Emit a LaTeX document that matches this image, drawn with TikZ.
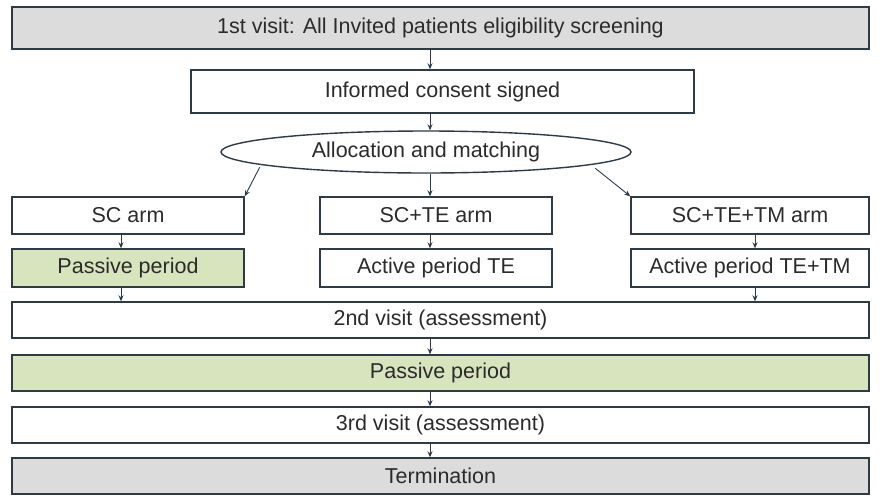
\documentclass[tikz,border=0pt]{standalone}
\usepackage{fontspec}
\setmainfont{Liberation Sans}
\usetikzlibrary{shapes.geometric,arrows.meta,calc}
\definecolor{edge}{HTML}{2E3B45}
\definecolor{greenfill}{HTML}{D7E4BD}
\definecolor{grayfill}{HTML}{DCDCDC}
\definecolor{txt}{HTML}{2B2B2B}
\begin{document}
\begin{tikzpicture}[x=1pt,y=-1pt,
  box/.style={draw=edge, line width=1.4pt, text=txt, font=\fontsize{21.5}{25}\selectfont, inner sep=0pt, fill=white},
  arr/.style={draw=edge, line width=0.9pt, -{Stealth[length=6pt,width=5pt]}}]
\useasboundingbox[fill=white] (0,0) rectangle (883,496);
\coordinate (cx) at (430,0);
\coordinate (lx) at (121,0);
\coordinate (rx) at (755,0);
\node[box, fill=grayfill, minimum width=857, minimum height=42] (v1) at (440.5,28) {1st visit: All Invited patients eligibility screening};
\node[box, minimum width=503, minimum height=43] (ic) at (442.5,91.5) {Informed consent signed};
\node[box, ellipse, minimum width=410, minimum height=42] (alloc) at (426,152) {Allocation and matching};
\node[box, minimum width=232, minimum height=37] (sc1) at (128,215.5) {SC arm};
\node[box, minimum width=232, minimum height=37] (sc2) at (436,215.5) {SC+TE arm};
\node[box, minimum width=238, minimum height=37] (sc3) at (750,215.5) {SC+TE+TM arm};
\node[box, fill=greenfill, minimum width=232, minimum height=38] (p1) at (128,268) {Passive period};
\node[box, minimum width=232, minimum height=38] (p2) at (436,268) {Active period TE};
\node[box, minimum width=238, minimum height=38] (p3) at (750,268) {Active period TE+TM};
\node[box, minimum width=857, minimum height=36] (v2) at (440.5,320) {2nd visit (assessment)};
\node[box, fill=greenfill, minimum width=857, minimum height=36] (pp) at (440.5,373) {Passive period};
\node[box, minimum width=857, minimum height=36] (v3) at (440.5,425) {3rd visit (assessment)};
\node[box, fill=grayfill, minimum width=857, minimum height=36] (term) at (440.5,476) {Termination};
\draw[arr] (v1.south -| cx) -- (ic.north -| cx);
\draw[arr] (ic.south -| cx) -- (alloc.north -| cx);
\draw[arr] (alloc.south -| cx) -- (sc2.north -| cx);
\draw[arr] ($(sc1.north east)+(15,-29)$) -- (sc1.north east);
\draw[arr] ($(sc3.north west)+(-35,-28)$) -- (sc3.north west);
\draw[arr] (sc1.south -| lx) -- (p1.north -| lx);
\draw[arr] (sc2.south -| cx) -- (p2.north -| cx);
\draw[arr] (sc3.south -| rx) -- (p3.north -| rx);
\draw[arr] (p1.south -| lx) -- (v2.north -| lx);
\draw[arr] (p3.south -| rx) -- (v2.north -| rx);
\draw[arr] (v2.south -| cx) -- (pp.north -| cx);
\draw[arr] (pp.south -| cx) -- (v3.north -| cx);
\draw[arr] (v3.south -| cx) -- (term.north -| cx);
\end{tikzpicture}
\end{document}
